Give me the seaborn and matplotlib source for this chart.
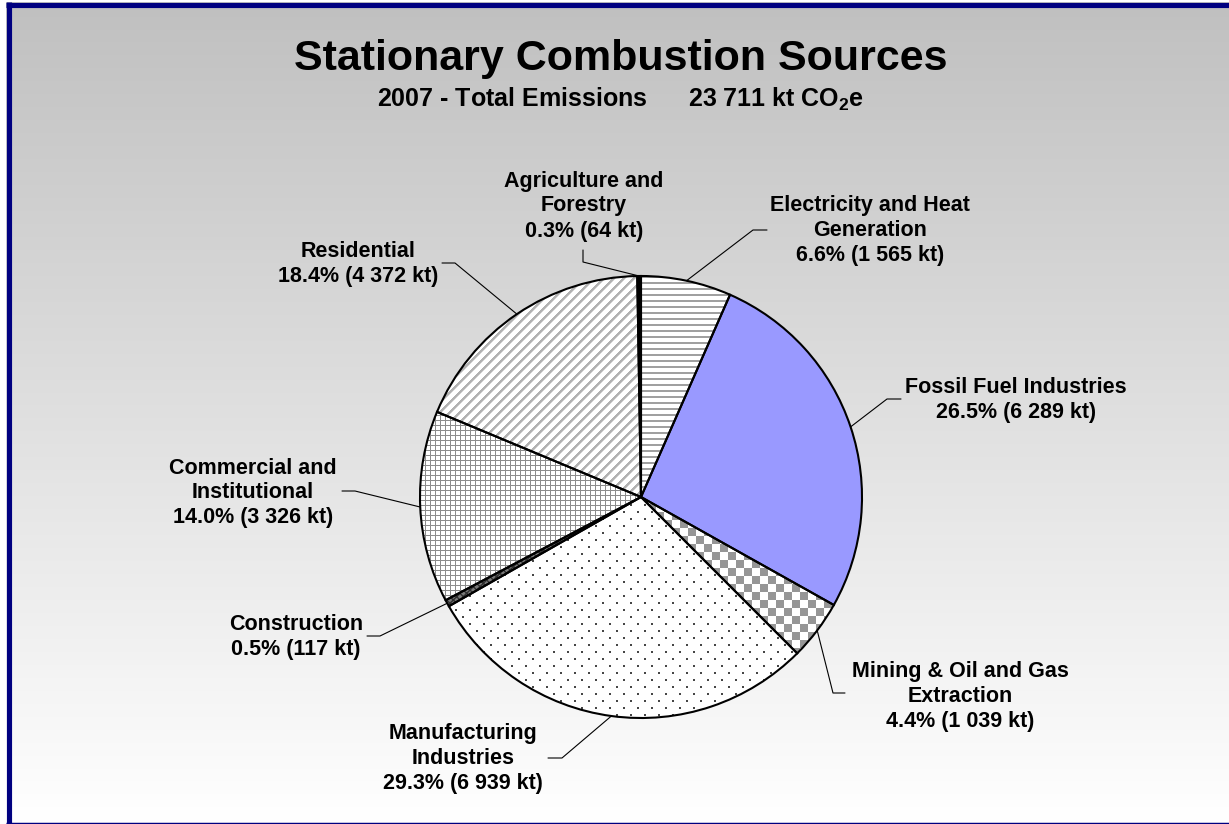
import numpy as np
import matplotlib
matplotlib.use("Agg")
import matplotlib.pyplot as plt
import seaborn as sns

# ---------------- data ----------------
categories = [
    "Electricity and Heat\nGeneration",
    "Fossil Fuel Industries",
    "Mining & Oil and Gas\nExtraction",
    "Manufacturing\nIndustries",
    "Construction",
    "Commercial and\nInstitutional",
    "Residential",
    "Agriculture and\nForestry",
]
emissions_kt = [1565, 6289, 1039, 6939, 117, 3326, 4372, 64]
chart_title = "Stationary Combustion Sources"
year = 2007

# ---------------- styles ----------------
face_colors = ["white", "#9999FF", "white", "white", "#7a7a7a", "white", "white", "black"]
hatches = [None, None, None, None, "xxxxx", None, None, None]
hatch_colors = ["white", "#9999FF", "white", "white", "#303030", "white", "white", "black"]
textures = ["hlines", None, "checker", "dots", None, "grid", "diag", None]

# label layout in pixel coordinates of the 1229x824 image
LAYOUT = {
    "Electricity and Heat\nGeneration": dict(text=(870, 231), stub=((767, 230), (753, 230))),
    "Fossil Fuel Industries": dict(text=(1016, 400), stub=((901, 399), (887, 399))),
    "Mining & Oil and Gas\nExtraction": dict(text=(960, 696), stub=((845, 693), (833, 693))),
    "Manufacturing\nIndustries": dict(text=(463, 759), stub=((548, 758), (562, 758))),
    "Construction": dict(text=(296, 637), stub=((367, 636), (380, 636))),
    "Commercial and\nInstitutional": dict(text=(253, 493), stub=((342, 491), (355, 491))),
    "Residential": dict(text=(358, 264), stub=((442, 263), (455, 263))),
    "Agriculture and\nForestry": dict(text=(584, 206), stub=((583, 250), (583, 262))),
}

W, H = 1229, 824
CX, CY, R = 641, 497, 221


def px2x(px):
    return (px - CX) / R


def py2y(py):
    return (CY - py) / R


# pixel-aligned texture images covering the pie's bounding box
TX0, TX1, TY0, TY1 = 416, 866, 272, 722
yy, xx = np.mgrid[TY0:TY1, TX0:TX1]


def make_texture(kind):
    img = np.ones(xx.shape + (3,))
    if kind == "hlines":
        m = (yy % 6) < 2
        img[m] = np.array([160, 160, 160]) / 255
    elif kind == "diag":
        d = (xx + yy) % 10
        img[d < 3] = np.array([178, 178, 178]) / 255
        img[(d == 3)] = np.array([215, 215, 215]) / 255
    elif kind == "grid":
        m = ((xx % 5) == 0) | ((yy % 5) == 0)
        img[m] = np.array([140, 140, 140]) / 255
    elif kind == "checker":
        m = ((xx // 8 + yy // 8) % 2) == 0
        img[m] = np.array([150, 150, 150]) / 255
    elif kind == "dots":
        row = yy // 7
        off = (row % 2) * 7
        m = ((yy % 7) < 2) & (((xx + off) % 14) < 2)
        img[m] = np.array([70, 70, 70]) / 255
    return img


sns.set_theme(style="white")
plt.rcParams["font.family"] = ["Liberation Sans", "DejaVu Sans"]
plt.rcParams["font.weight"] = "bold"
plt.rcParams["mathtext.fontset"] = "custom"
plt.rcParams["mathtext.rm"] = "Liberation Sans:bold"
plt.rcParams["mathtext.bf"] = "Liberation Sans:bold"
plt.rcParams["mathtext.it"] = "Liberation Sans:bold"
plt.rcParams["mathtext.default"] = "bf"
plt.rcParams["hatch.linewidth"] = 1.0

fig = plt.figure(figsize=(W / 100, H / 100), dpi=100, facecolor="white")

# background with gradient and navy frame
bg = fig.add_axes([0, 0, 1, 1], zorder=0)
bg.set_xlim(0, W)
bg.set_ylim(H, 0)
bg.axis("off")
grad = np.linspace(0, 1, 256).reshape(-1, 1)
top = np.array([192, 192, 192]) / 255.0
bot = np.array([255, 255, 255]) / 255.0
img = top[None, None, :] * (1 - grad[:, :, None]) + bot[None, None, :] * grad[:, :, None]
bg.imshow(img, extent=[6, W + 5, 822, 2], aspect="auto", interpolation="bilinear", zorder=0)
navy = "#000080"
bg.plot([6, W + 5], [4.6, 4.6], color=navy, lw=3.7, solid_capstyle="butt", zorder=1)
bg.plot([8.6, 8.6], [2, H + 2], color=navy, lw=3.7, solid_capstyle="butt", zorder=1)
bg.plot([6, W + 5], [823.5, 823.5], color=navy, lw=2.5, solid_capstyle="butt", zorder=1)

total = sum(emissions_kt)
bg.text(621, 70, chart_title, ha="center", va="baseline", fontsize=31, fontweight="bold", color="black")
total_str = f"{total:,}".replace(",", " ")
bg.text(620.5, 107, f"{year} - Total Emissions      {total_str} kt CO$_2$e",
        ha="center", va="baseline", fontsize=18, fontweight="bold", color="black")

# pie axes
ax = fig.add_axes([0, 0, 1, 1], zorder=1)
ax.patch.set_alpha(0)

wedges, _ = ax.pie(emissions_kt, startangle=90, counterclock=False, radius=1.0,
                   colors=face_colors, wedgeprops=dict(linewidth=0))
for w, h, hc in zip(wedges, hatches, hatch_colors):
    w.set_edgecolor(hc)
    w.set_linewidth(0)
    if h:
        w.set_hatch(h)

tex_extent = [px2x(TX0), px2x(TX1), py2y(TY1), py2y(TY0)]
for w, kind in zip(wedges, textures):
    if kind is None:
        continue
    im = ax.imshow(make_texture(kind), extent=tex_extent, interpolation="nearest", zorder=1.5)
    im.set_clip_path(w)

outline, _ = ax.pie(emissions_kt, startangle=90, counterclock=False, radius=1.0,
                    wedgeprops=dict(fill=False, edgecolor="black", linewidth=1.5))
for w in outline:
    w.set_zorder(3)

for w, cat, v in zip(wedges, categories, emissions_kt):
    mid = np.deg2rad((w.theta1 + w.theta2) / 2.0)
    ex, ey = np.cos(mid) * w.r, np.sin(mid) * w.r
    L = LAYOUT[cat]
    (sx0, sy0), (sx1, sy1) = L["stub"]
    ax.plot([px2x(sx0), px2x(sx1), ex], [py2y(sy0), py2y(sy1), ey],
            color="black", lw=0.8, zorder=2.5)
    pct = v / total * 100
    vstr = f"{v:,}".replace(",", " ")
    label = f"{cat}\n{pct:.1f}% ({vstr} kt)"
    ax.text(px2x(L["text"][0]), py2y(L["text"][1]), label, ha="center", va="center",
            fontsize=15.5, fontweight="bold", linespacing=1.25, color="black", zorder=4)

ax.set_xlim(px2x(0), px2x(W))
ax.set_ylim(py2y(H), py2y(0))
ax.set_aspect("auto")
ax.axis("off")

fig.savefig("out.png", dpi=100, facecolor="white")
